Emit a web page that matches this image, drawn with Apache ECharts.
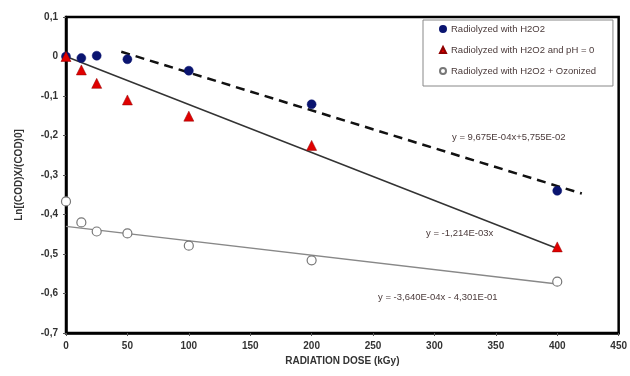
<!DOCTYPE html>
<html><head><meta charset="utf-8">
<script src="https://cdn.jsdelivr.net/npm/echarts@6/dist/echarts.min.js"></script>
<style>html,body{margin:0;padding:0;background:#fff}#c{width:630px;height:376px}</style>
</head><body><div id="c"></div>
<script>
var doses = [0, 12.5, 25, 50, 100, 200, 400];
var h2o2 = [0, -0.004, 0.002, -0.007, -0.036, -0.121, -0.340];
var h2o2Ph0 = [0, -0.034, -0.068, -0.110, -0.151, -0.225, -0.482];
var h2o2Ozon = [-0.367, -0.420, -0.443, -0.448, -0.479, -0.516, -0.570];
var trendDashedX = [45, 420], trendDashedY = [0.012, -0.347];
var trendSolidX = [0, 400], trendSolidY = [0, -0.486];
var trendGreyX = [0, 400], trendGreyY = [-0.430, -0.576];
var seriesNames = ['Radiolyzed with H2O2', 'Radiolyzed with H2O2 and pH = 0', 'Radiolyzed with H2O2 + Ozonized'];
var eqLabels = ['y = 9,675E-04x+5,755E-02', 'y = -1,214E-03x', 'y = -3,640E-04x - 4,301E-01'];
var xTitle = 'RADIATION DOSE (kGy)';
var yTitle = 'Ln[(COD)X/(COD)0]';

function pairs(xs, ys) { return xs.map(function (x, i) { return [x, ys[i]]; }); }

var chart = echarts.init(document.getElementById('c'), null, {renderer: 'canvas'});
var txtCol = '#4a3a3a';
chart.setOption({
  animation: false,
  backgroundColor: '#fff',
  grid: {left: 66, right: 9, top: 17, bottom: 43, show: true, borderColor: '#000', borderWidth: 2.5},
  xAxis: {
    type: 'value', min: 0, max: 450, interval: 50,
    name: xTitle, nameLocation: 'middle', nameGap: 23,
    nameTextStyle: {fontFamily: 'Liberation Sans', fontWeight: 'bold', fontSize: 10, color: '#333'},
    axisLine: {show: true, onZero: false, lineStyle: {color: '#000', width: 2.5}},
    axisTick: {show: true, length: 3, lineStyle: {color: '#555'}},
    axisLabel: {margin: 8, fontFamily: 'Liberation Sans', fontWeight: 'bold', fontSize: 10, color: '#333'},
    splitLine: {show: false}
  },
  yAxis: {
    type: 'value', min: -0.7, max: 0.1, interval: 0.1,
    name: yTitle, nameLocation: 'middle', nameGap: 42, nameRotate: 90,
    nameTextStyle: {fontFamily: 'Liberation Sans', fontWeight: 'bold', fontSize: 10, color: '#333'},
    axisLine: {show: true, onZero: false, lineStyle: {color: '#000', width: 2.5}},
    axisTick: {show: true, length: 3, lineStyle: {color: '#555'}},
    axisLabel: {margin: 8, fontFamily: 'Liberation Sans', fontWeight: 'bold', fontSize: 10, color: '#333',
      formatter: function (v) { var r = Math.round(v * 10) / 10; return r === 0 ? '0' : r.toFixed(1).replace('.', ','); }},
    splitLine: {show: false}
  },
  legend: {
    orient: 'vertical', left: 423, top: 20,
    backgroundColor: '#fff', borderColor: '#888', borderWidth: 1,
    padding: [4, 17, 10, 16], itemGap: 11, itemWidth: 6, itemHeight: 6,
    textStyle: {fontFamily: 'Liberation Sans', fontSize: 9.5, color: txtCol},
    data: [
      {name: seriesNames[0], icon: 'circle'},
      {name: seriesNames[1], icon: 'triangle'},
      {name: seriesNames[2], icon: 'circle'}
    ]
  },
  series: [
    {type: 'line', data: pairs(trendDashedX, trendDashedY), symbol: 'none', silent: true, z: 1,
      lineStyle: {color: '#111', width: 2.5, type: [9, 6]}},
    {type: 'line', data: pairs(trendSolidX, trendSolidY), symbol: 'none', silent: true, z: 1,
      lineStyle: {color: '#333', width: 1.5}},
    {type: 'line', data: pairs(trendGreyX, trendGreyY), symbol: 'none', silent: true, z: 1,
      lineStyle: {color: '#888', width: 1.3}},
    {name: seriesNames[0], type: 'scatter', data: pairs(doses, h2o2), symbol: 'circle', symbolSize: 9, z: 3,
      itemStyle: {color: '#0a1470', borderColor: '#0a1470', borderWidth: 0.5, opacity: 1}},
    {name: seriesNames[1], type: 'scatter', data: pairs(doses, h2o2Ph0), symbol: 'triangle', symbolSize: 10, z: 3,
      itemStyle: {color: '#e00000', borderColor: '#900000', borderWidth: 0.5, opacity: 1}},
    {name: seriesNames[2], type: 'scatter', data: pairs(doses, h2o2Ozon), symbol: 'circle', symbolSize: 9, z: 3,
      itemStyle: {color: '#fff', borderColor: '#777', borderWidth: 1.2, opacity: 1}}
  ],
  graphic: [
    {type: 'text', left: 452, top: 132, style: {text: eqLabels[0], font: '9.5px "Liberation Sans"', fill: txtCol}},
    {type: 'text', left: 426, top: 228, style: {text: eqLabels[1], font: '9.5px "Liberation Sans"', fill: txtCol}},
    {type: 'text', left: 378, top: 292, style: {text: eqLabels[2], font: '9.5px "Liberation Sans"', fill: txtCol}}
  ]
});
</script></body></html>
